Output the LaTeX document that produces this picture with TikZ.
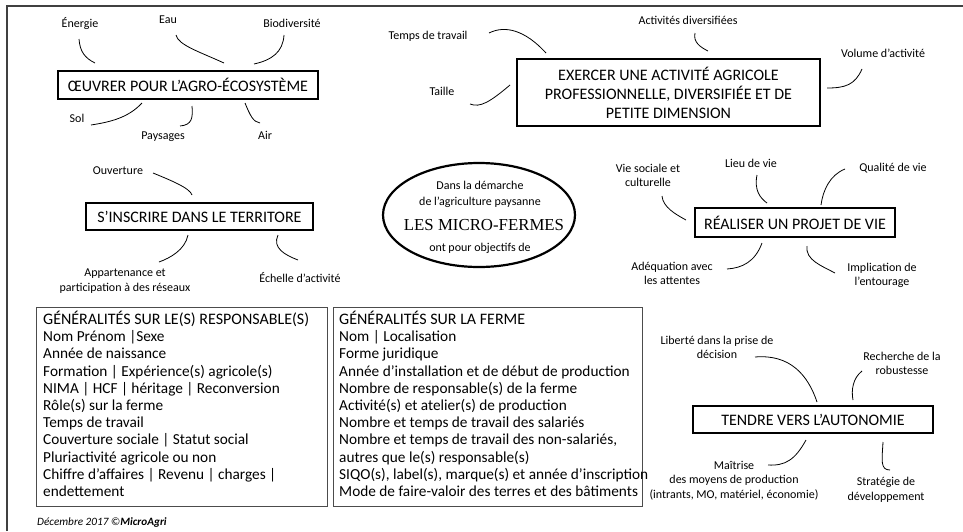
\documentclass[tikz,border=0pt]{standalone}
\usepackage{fontspec}
\setmainfont{Carlito}
\newfontfamily\titleserif{Liberation Serif}
\usetikzlibrary{shapes.geometric}
\begin{document}
\begin{tikzpicture}[x=1pt,y=-1pt,
  lbl/.style={font=\fontsize{12}{14.5}\selectfont, align=center, inner sep=0pt},
  concept/.style={draw, line width=1.6pt, font=\fontsize{16}{19}\selectfont, align=center, inner sep=0pt, rectangle},
  conn/.style={line width=0.8pt},
  infobox/.style={draw=black!70, line width=1pt, rectangle, inner sep=0pt},
  infotext/.style={font=\fontsize{15.3}{17.2}\selectfont, align=left, inner sep=0pt, anchor=north west},
  frame/.style={draw=black!75, line width=1.8pt}
]
\useasboundingbox (0,0) rectangle (963,531);
\coordinate (ftl) at (7,6);
\coordinate (ftr) at (963,6);
\coordinate (fbl) at (7,531);
\draw[frame] (fbl) -- (ftl) -- (ftr);

% --- Concept boxes
\node[concept, minimum width=260, minimum height=28] (agro) at (188,85) {ŒUVRER POUR L’AGRO-ÉCOSYSTÈME};
\node[concept, minimum width=303, minimum height=67] (exer) at (668.5,92.5) {EXERCER UNE ACTIVITÉ AGRICOLE\\PROFESSIONNELLE, DIVERSIFIÉE ET DE\\PETITE DIMENSION};
\node[concept, minimum width=227, minimum height=27] (terr) at (199.5,216.5) {S’INSCRIRE DANS LE TERRITORE};
\node[concept, minimum width=200, minimum height=29] (vie) at (795,222.5) {RÉALISER UN PROJET DE VIE};
\node[concept, minimum width=240, minimum height=27] (auto) at (813,419.5) {TENDRE VERS L’AUTONOMIE};

% --- Central ellipse
\node[ellipse, draw, line width=2.2pt, minimum width=192, minimum height=104, inner sep=0pt] (ell) at (479,215) {};
\node[lbl] (e1) at (480,185) {Dans la démarche};
\node[lbl] (e2) at (480,202) {de l’agriculture paysanne};
\node[inner sep=0pt, font=\titleserif\fontsize{16.8}{18}\selectfont] (e3) at (484,225) {LES MICRO-FERMES};
\node[lbl] (e4) at (480,248) {ont pour objectifs de};

% --- Labels
\node[lbl] (energie) at (80,24) {Énergie};
\node[lbl] (eau) at (168,20) {Eau};
\node[lbl] (bio) at (292,23) {Biodiversité};
\node[lbl] (sol) at (77,118) {Sol};
\node[lbl] (pays) at (163,137) {Paysages};
\node[lbl] (air) at (265,135) {Air};

\node[lbl] (temps) at (428,36) {Temps de travail};
\node[lbl] (taille) at (442,91) {Taille};
\node[lbl] (actdiv) at (688,20) {Activités diversifiées};
\node[lbl] (volume) at (883,53) {Volume d’activité};

\node[lbl] (ouv) at (118,171) {Ouverture};
\node[lbl] (appart) at (125,281) {Appartenance et\\participation à des réseaux};
\node[lbl] (echelle) at (300,278) {Échelle d’activité};

\node[lbl] (viesoc) at (648,175.5) {Vie sociale et\\culturelle};
\node[lbl] (lieu) at (751,163) {Lieu de vie};
\node[lbl] (qual) at (893,168) {Qualité de vie};
\node[lbl] (adeq) at (672,273.5) {Adéquation avec\\les attentes};
\node[lbl] (impl) at (882,275.5) {Implication de\\l’entourage};

\node[lbl] (lib) at (717,347.5) {Liberté dans la prise de\\décision};
\node[lbl] (rech) at (902,363.5) {Recherche de la\\robustesse};
\node[lbl] (mait) at (734,480.5) {Maîtrise\\des moyens de production\\(intrants, MO, matériel, économie)};
\node[lbl] (strat) at (886,490) {Stratégie de\\développement};

% --- Connectors
\draw[conn] (79,39) .. controls (80,52) and (85,58) .. (95,63);
\draw[conn] (176,35) .. controls (178,45) and (200,52) .. (224,63);
\draw[conn] (284,35) .. controls (283,52) and (272,60) .. (254,64);
\draw[conn] (142,103) .. controls (128,118) and (110,122) .. (91,125);
\draw[conn] (192,106) .. controls (193,118) and (192,125) .. (180,126);
\draw[conn] (245,103) .. controls (250,115) and (253,122) .. (260,123);

\draw[conn] (489,33) .. controls (505,25) and (525,30) .. (546,53);
\draw[conn] (470,104) .. controls (480,108) and (490,102) .. (510,85);
\draw[conn] (695,33) .. controls (693,42) and (700,47) .. (708,51);
\draw[conn] (862,69) .. controls (855,85) and (845,88) .. (827,88);

\draw[conn] (153,173) .. controls (170,180) and (190,188) .. (192,195);
\draw[conn] (188,235) .. controls (185,250) and (170,258) .. (159,262);
\draw[conn] (278,235) .. controls (272,248) and (285,255) .. (298,260);

\draw[conn] (662,196) .. controls (663,207) and (675,214) .. (686,220);
\draw[conn] (757,175) .. controls (754,190) and (760,198) .. (767,203);
\draw[conn] (845,169) .. controls (830,175) and (823,190) .. (821,205);
\draw[conn] (762,243) .. controls (755,262) and (742,268) .. (727,269);
\draw[conn] (807,246) .. controls (805,260) and (822,266) .. (835,273);

\draw[conn] (755,357) .. controls (790,354) and (808,375) .. (817,402);
\draw[conn] (862,371) .. controls (853,378) and (851,390) .. (853,400);
\draw[conn] (806,440) .. controls (795,460) and (785,466) .. (768,465);
\draw[conn] (883,442) .. controls (882,460) and (880,470) .. (890,470);

% --- Info boxes
\node[infobox, minimum width=291, minimum height=199] (resp) at (181.5,406.5) {};
\node[infotext] (resptxt) at (43,311) {{\fontsize{16}{17.2}\selectfont GÉNÉRALITÉS SUR LE(S) RESPONSABLE(S)}\\
Nom Prénom |Sexe\\
Année de naissance\\
Formation | Expérience(s) agricole(s)\\
NIMA | HCF | héritage | Reconversion\\
Rôle(s) sur la ferme\\
Temps de travail\\
Couverture sociale | Statut social\\
Pluriactivité agricole ou non\\
Chiffre d’affaires | Revenu | charges |\\
endettement};

\node[infobox, minimum width=309, minimum height=199] (ferme) at (487.5,406.5) {};
\node[infotext] (fermetxt) at (339,311) {{\fontsize{16}{17.2}\selectfont GÉNÉRALITÉS SUR LA FERME}\\
Nom | Localisation\\
Forme juridique\\
Année d’installation et de début de production\\
Nombre de responsable(s) de la ferme\\
Activité(s) et atelier(s) de production\\
Nombre et temps de travail des salariés\\
Nombre et temps de travail des non-salariés,\\
autres que le(s) responsable(s)\\
SIQO(s), label(s), marque(s) et année d’inscription\\
Mode de faire-valoir des terres et des bâtiments};

\node[anchor=west, inner sep=0pt, font=\fontsize{11.2}{13}\selectfont\itshape] (foot) at (37,523) {Décembre 2017 ©\textbf{MicroAgri}};
\end{tikzpicture}
\end{document}
